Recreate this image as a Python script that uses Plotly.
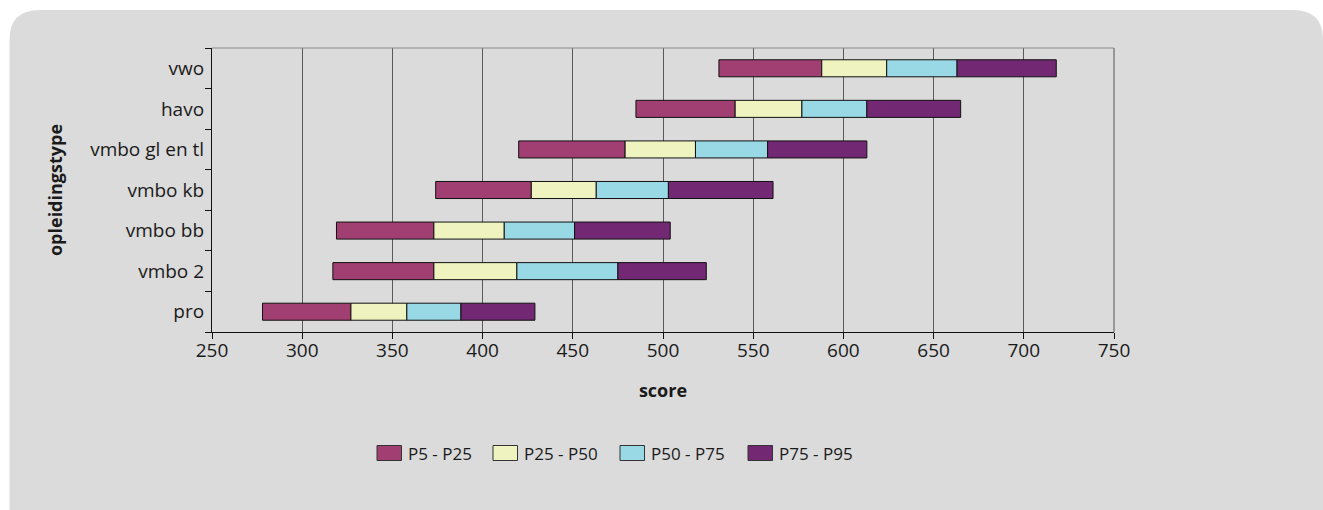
import plotly.graph_objects as go

categories = ["pro", "vmbo 2", "vmbo bb", "vmbo kb", "vmbo gl en tl", "havo", "vwo"]
p5 = [278, 317, 319, 374, 420, 485, 531]
p25 = [327, 373, 373, 427, 479, 540, 588]
p50 = [358, 419, 412, 463, 518, 577, 624]
p75 = [388, 475, 451, 503, 558, 613, 663]
p95 = [429, 524, 504, 561, 613, 665, 718]

series_names = ["P5 - P25", "P25 - P50", "P50 - P75", "P75 - P95"]
series_colors = ["#a23f72", "#eef3c0", "#99d9e5", "#722873"]
x_ticks = [250, 300, 350, 400, 450, 500, 550, 600, 650, 700, 750]

FONT = "Open Sans"
W, H = 1323, 510
L, R, T, B = 212, 209, 48, 178
PW, PH = W - L - R, H - T - B


def px(x):
    return (x - L) / PW


def py(y):
    return (H - B - y) / PH


bounds = [p5, p25, p50, p75, p95]
fig = go.Figure()
for i, name in enumerate(series_names):
    lo, hi = bounds[i], bounds[i + 1]
    fig.add_trace(go.Bar(
        y=categories, x=[h - l for l, h in zip(lo, hi)], base=lo,
        orientation="h", name=name,
        marker=dict(color=series_colors[i], line=dict(color="#111111", width=1)),
        showlegend=False, hoverinfo="skip",
    ))

# rounded grey panel
x0, y0, x1, y1, r = 9.5, 10, 1330, 520, 30
path = (f"M {px(x0)},{py(y0 + r)} Q {px(x0)},{py(y0)} {px(x0 + r)},{py(y0)} "
        f"L {px(1323 - r)},{py(y0)} Q {px(1323)},{py(y0)} {px(1323)},{py(y0 + r)} "
        f"L {px(x1)},{py(y1)} L {px(x0)},{py(y1)} Z")
shapes = [dict(type="path", path=path, xref="paper", yref="paper",
               fillcolor="#dbdbdb", line=dict(width=0), layer="below")]
# top border and right border of plot area
shapes.append(dict(type="line", xref="paper", yref="paper", x0=0, x1=1, y0=1, y1=1,
                   line=dict(color="#8a8a8a", width=1)))
shapes.append(dict(type="line", xref="paper", yref="paper", x0=1, x1=1, y0=0, y1=1,
                   line=dict(color="#6a6a6a", width=1.2)))

# custom legend
annotations = []
leg_x = [377, 493, 620, 748]
leg_y = 453
for i, name in enumerate(series_names):
    sx = leg_x[i]
    shapes.append(dict(type="rect", xref="paper", yref="paper",
                       x0=px(sx), x1=px(sx + 24.5), y0=py(leg_y - 7.5), y1=py(leg_y + 7.5),
                       fillcolor=series_colors[i], line=dict(color="#333333", width=1)))
    annotations.append(dict(x=px(sx + 29), y=py(leg_y), xref="paper", yref="paper",
                            text=name, showarrow=False, xanchor="left", yanchor="middle",
                            font=dict(family=FONT, size=17, color="#1a1a1a")))

fig.update_layout(
    width=W, height=H,
    margin=dict(l=L, r=R, t=T, b=B, pad=0),
    paper_bgcolor="white", plot_bgcolor="rgba(0,0,0,0)",
    barmode="overlay", bargap=0.58,
    font=dict(family=FONT, size=19, color="#1a1a1a"),
    shapes=shapes, annotations=annotations,
    xaxis=dict(range=[250, 750], tickvals=x_ticks, showgrid=True,
               gridcolor="#5a5a5a", gridwidth=1.2, zeroline=False,
               showline=True, linecolor="#111111", linewidth=1.2,
               ticks="outside", ticklen=6, tickcolor="#111111",
               ticklabelstandoff=-5,
               tickfont=dict(family=FONT, size=19),
               title=dict(text="<b>score</b>", font=dict(family=FONT, size=18), standoff=22)),
    yaxis=dict(categoryorder="array", categoryarray=categories, showgrid=False,
               zeroline=False, showline=True, linecolor="#111111", linewidth=1.2,
               ticks="outside", tickson="boundaries", ticklen=6, tickcolor="#111111",
               ticklabelstandoff=3,
               tickfont=dict(family=FONT, size=19),
               title=dict(text="<b>opleidingstype</b>", font=dict(family=FONT, size=18), standoff=22)),
)

fig.write_html("out.html", config={"displayModeBar": False},
               post_script="document.body.style.margin='0';")
